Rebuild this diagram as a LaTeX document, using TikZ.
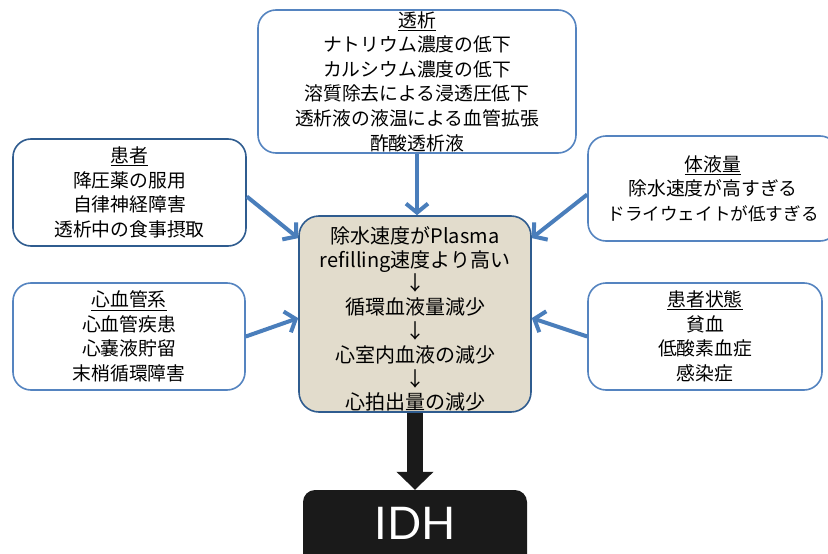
\documentclass[tikz,border=0pt]{standalone}
\usepackage{fontspec}
\setmainfont{Noto Sans CJK JP}
\newfontfamily\idhfont{Lato}
\usetikzlibrary{arrows.meta}
\definecolor{lightblue}{HTML}{5584C0}
\definecolor{darkblue}{HTML}{2F5C8F}
\definecolor{arrowblue}{HTML}{4A7EBB}
\definecolor{beige}{HTML}{E2DCCC}
\definecolor{idhblack}{HTML}{1A1A1A}
\tikzset{
  factor/.style={draw=lightblue, line width=1.6pt, rounded corners=18pt, fill=white,
    align=center, font=\fontsize{18.8}{24.6}\selectfont, inner sep=0pt},
  factordark/.style={factor, draw=darkblue},
  mainbox/.style={draw=darkblue, line width=1.6pt, rounded corners=20pt, fill=beige,
    inner sep=0pt, minimum width=232pt, minimum height=196pt},
  maintext/.style={align=center, font=\fontsize{20}{23.8}\selectfont, inner sep=0pt},
  idhbox/.style={fill=idhblack, rounded corners=12pt, minimum width=224pt, minimum height=80pt, inner sep=0pt},
  idhtext/.style={text=white, font=\idhfont\fontsize{45}{50}\selectfont, inner sep=0pt},
  feed/.style={draw=arrowblue, line width=4pt, -{Straight Barb[length=9pt,width=22pt]}},
  bigarrow/.style={draw=idhblack, line width=16pt, -{Triangle[length=18pt,width=36pt]}}
}
\begin{document}
\begin{tikzpicture}[x=1pt,y=-1pt]
\useasboundingbox (0,0) rectangle (828,554);
\clip (0,0) rectangle (828,554);

\node[factor, minimum width=318pt, minimum height=143pt] (t) at (417,81.5)
  {\underline{透析}\\ナトリウム濃度の低下\\カルシウム濃度の低下\\溶質除去による浸透圧低下\\透析液の液温による血管拡張\\酢酸透析液};
\node[factordark, minimum width=233pt, minimum height=107pt] (p) at (129.5,192.5)
  {\underline{患者}\\降圧薬の服用\\自律神経障害\\透析中の食事摂取};
\node[factor, minimum width=232pt, minimum height=107pt] (cv) at (129,336.5)
  {\underline{心血管系}\\心血管疾患\\心嚢液貯留\\末梢循環障害};
\node[factor, minimum width=250pt, minimum height=105pt] (f) at (713,188.5)
  {\underline{体液量}\\除水速度が高すぎる\\{\fontsize{17.6}{24.6}\selectfont ドライウェイトが低すぎる}};
\node[factor, minimum width=234pt, minimum height=107pt] (s) at (705,336.5)
  {\underline{患者状態}\\貧血\\低酸素血症\\感染症};

\node[mainbox] (c) at (415,314) {};
\node[maintext] (ctext) at ([yshift=-5pt]c.center)
  {除水速度がPlasma\\refilling速度より高い\\↓\\循環血液量減少\\↓\\心室内血液の減少\\↓\\心拍出量の減少};

\node[idhbox] (idh) at (415,530) {};
\node[idhtext] (idhlabel) at ([yshift=7pt]idh.center) {IDH};

\draw[feed] (t.south) -- (t.south |- c.north);
\draw[feed] ([yshift=-4pt]p.east) -- (c.147);
\draw[feed] (cv.east) -- (c.182);
\draw[feed] ([yshift=-6pt]f.west) -- (c.33);
\draw[feed] (s.west) -- (c.358);
\draw[bigarrow] (c.south) -- (idh.north);
\end{tikzpicture}
\end{document}
